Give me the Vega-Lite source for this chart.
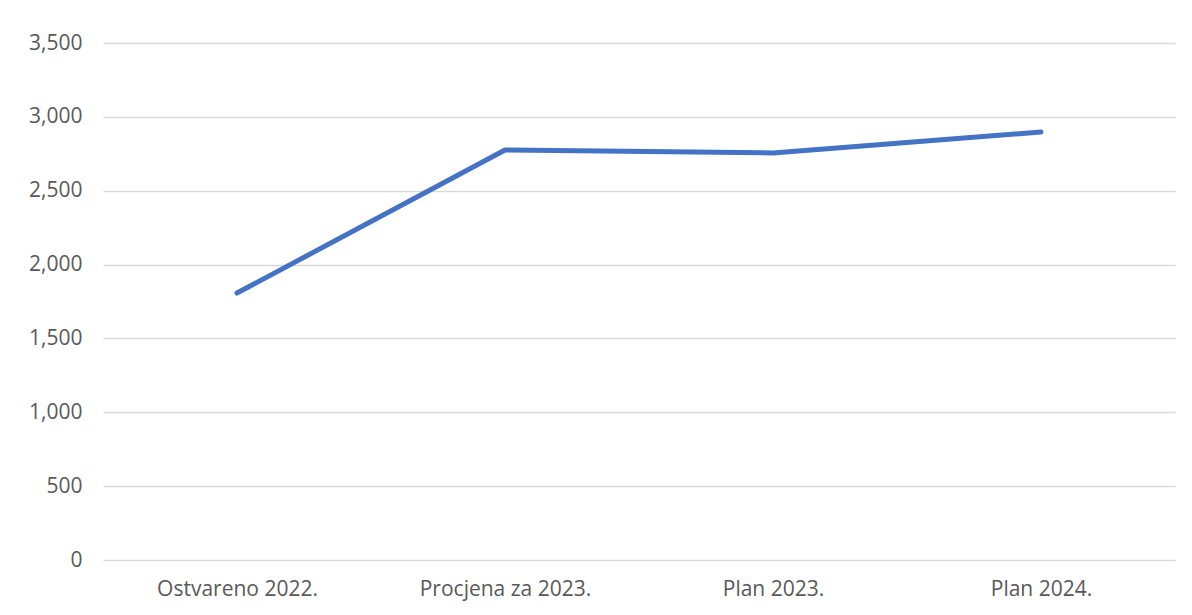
{
  "$schema": "https://vega.github.io/schema/vega-lite/v6.json",
  "width": 1072,
  "height": 517,
  "autosize": {"type": "none"},
  "padding": {"left": 103, "top": 43, "right": 17, "bottom": 55},
  "background": "white",
  "config": {"view": {"stroke": null}, "font": "Open Sans"},
  "data": {"values": [
    {"category": "Ostvareno 2022.", "value": 1807},
    {"category": "Procjena za 2023.", "value": 2776},
    {"category": "Plan 2023.", "value": 2756},
    {"category": "Plan 2024.", "value": 2897}
  ]},
  "mark": {"type": "line", "color": "#4472C4", "strokeWidth": 5, "strokeCap": "round", "strokeJoin": "round"},
  "encoding": {
    "x": {"field": "category", "type": "nominal", "sort": null,
      "scale": {"type": "point", "padding": 0.5},
      "axis": {"title": null, "labelAngle": 0, "domain": false, "ticks": false, "grid": false, "labelFontSize": 21, "labelColor": "#595959", "labelPadding": 18, "labelFont": "Open Sans"}},
    "y": {"field": "value", "type": "quantitative",
      "scale": {"domain": [0, 3500], "nice": false},
      "axis": {"title": null, "values": [0, 500, 1000, 1500, 2000, 2500, 3000, 3500], "format": ",.0f", "domain": false, "ticks": false, "gridColor": "#D9D9D9", "gridWidth": 1.5, "labelFontSize": 21, "labelColor": "#595959", "labelPadding": 21, "labelFont": "Open Sans"}}
  }
}
